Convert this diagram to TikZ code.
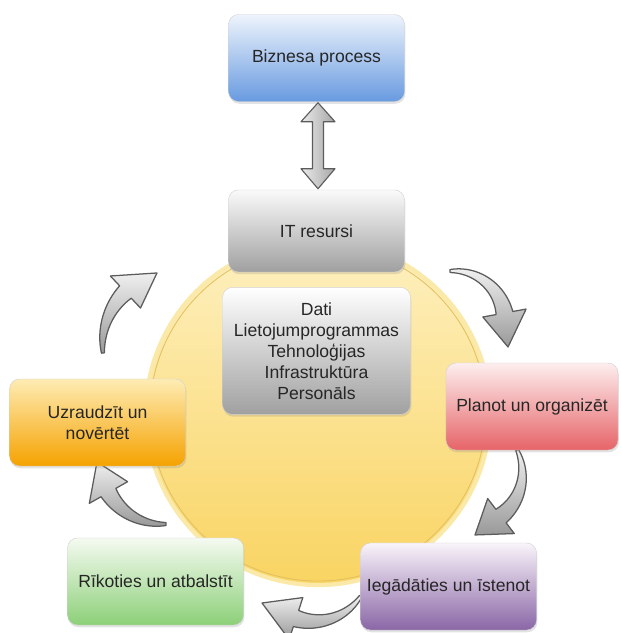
\documentclass[tikz,border=0pt]{standalone}
\usepackage{fontspec}
\setmainfont{Liberation Sans}
\usepackage{xcolor}
\usepackage{tikz}
\usetikzlibrary{arrows.meta,positioning,calc,shadows}
\definecolor{textgray}{RGB}{38,38,38}
\definecolor{bluetop}{RGB}{238,244,252}
\definecolor{bluebot}{RGB}{104,154,224}
\definecolor{graytop}{RGB}{250,250,250}
\definecolor{graybot}{RGB}{160,160,160}
\definecolor{redtop}{RGB}{253,238,238}
\definecolor{redbot}{RGB}{230,100,104}
\definecolor{orangetop}{RGB}{254,236,180}
\definecolor{orangebot}{RGB}{245,162,0}
\definecolor{greentop}{RGB}{245,250,241}
\definecolor{greenbot}{RGB}{140,208,120}
\definecolor{purpletop}{RGB}{249,244,250}
\definecolor{purplebot}{RGB}{138,102,166}
\definecolor{ringtop}{RGB}{254,240,192}
\definecolor{ringbot}{RGB}{249,212,98}
\definecolor{ringlight}{RGB}{251,233,170}
\definecolor{ringline}{RGB}{226,192,96}
\definecolor{arrowline}{RGB}{92,92,92}

% tapered curved arrow: centre x, centre y, radius, tail angle, head angle, tip angle, tip radius
\newcommand{\cyclearrow}[7]{%
  \draw[cycarrow, shift={(#1,#2)}]
    plot[domain=#4:#5, samples=30, variable=\t] (\t:{#3+1.5+7*(\t-(#4))/((#5)-(#4))})
    -- (#5:{#3+22}) -- (#6:#7) -- (#5:{#3-22})
    -- plot[domain=#5:#4, samples=30, variable=\t] (\t:{#3-1.5-7*(\t-(#4))/((#5)-(#4))})
    -- cycle;
}

\begin{document}
\begin{tikzpicture}[
  x=0.025cm, y=0.025cm,
  box/.style={rounded corners=0.25cm, align=center, minimum width=4.4cm, minimum height=2.175cm,
    draw=black!18, line width=0.3pt, text=textgray, font=\fontsize{12.5}{15}\selectfont,
    drop shadow={opacity=0.22, shadow xshift=0.6pt, shadow yshift=-1.6pt}},
  ringnode/.style={circle, minimum size=8.6cm, draw=ringlight, line width=3pt, top color=ringtop, bottom color=ringbot},
  cycarrow/.style={draw=arrowline, line width=0.9pt, line join=round, top color=black!6, bottom color=black!40},
  linkarrow/.style={draw=arrowline, line width=0.8pt, line join=round, left color=black!8, right color=black!35}
]
\useasboundingbox (0,0) rectangle (620,-633);

\node[ringnode] (ring) at (318,-413) {};
\draw[ringline, line width=0.6pt] (ring.center) circle[radius=4.2cm];

\cyclearrow{453.9}{-322.3}{51.4}{94.3}{10.4}{-24.5}{59.5}
\cyclearrow{468.4}{-473.1}{53.9}{25.4}{-52.8}{-83.9}{62.2}
\cyclearrow{313.7}{-564.6}{56.7}{-34}{-108.2}{-143.4}{64.4}
\cyclearrow{162.6}{-461.9}{62.2}{-86.9}{-150.5}{-180}{65.6}
\cyclearrow{175.2}{-345}{72.7}{186.3}{133.2}{104.2}{74.3}

\node[box, top color=bluetop, bottom color=bluebot] (biz) at (316.5,-58) {Biznesa process};
\node[box, top color=graytop, bottom color=graybot, minimum height=2.05cm, below=2.2cm of biz] (it) {IT resursi};
\node[box, top color=white, bottom color=graybot, minimum width=4.7cm, minimum height=3.175cm, below=0.375cm of it] (res)
  {Dati\\Lietojumprogrammas\\Tehnoloģijas\\Infrastruktūra\\Personāls};
\node[box, top color=redtop, bottom color=redbot, minimum width=4.3cm] (plan) at (532,-406.5) {Planot un organizēt};
\node[box, top color=purpletop, bottom color=purplebot] (buy) at (448.5,-586.5) {Iegādāties un īstenot};
\node[box, top color=greentop, bottom color=greenbot] (run) at (155.5,-581.5) {Rīkoties un atbalstīt};
\node[box, top color=orangetop, bottom color=orangebot] (mon) at (97.5,-422.5) {Uzraudzīt un\\novērtēt};

\coordinate (lt) at ($(biz.south)+(1.5,-1)$);
\coordinate (lb) at ($(it.north)+(1.5,1)$);
\draw[linkarrow] (lt) -- ++(17,-19) -- ++(-11.5,0) -- ($(lb)+(5.5,20)$) -- ++(11.5,0) -- (lb)
  -- ++(-17,20) -- ++(11.5,0) -- ($(lt)+(-5.5,-19)$) -- ++(-11.5,0) -- cycle;
\end{tikzpicture}
\end{document}
